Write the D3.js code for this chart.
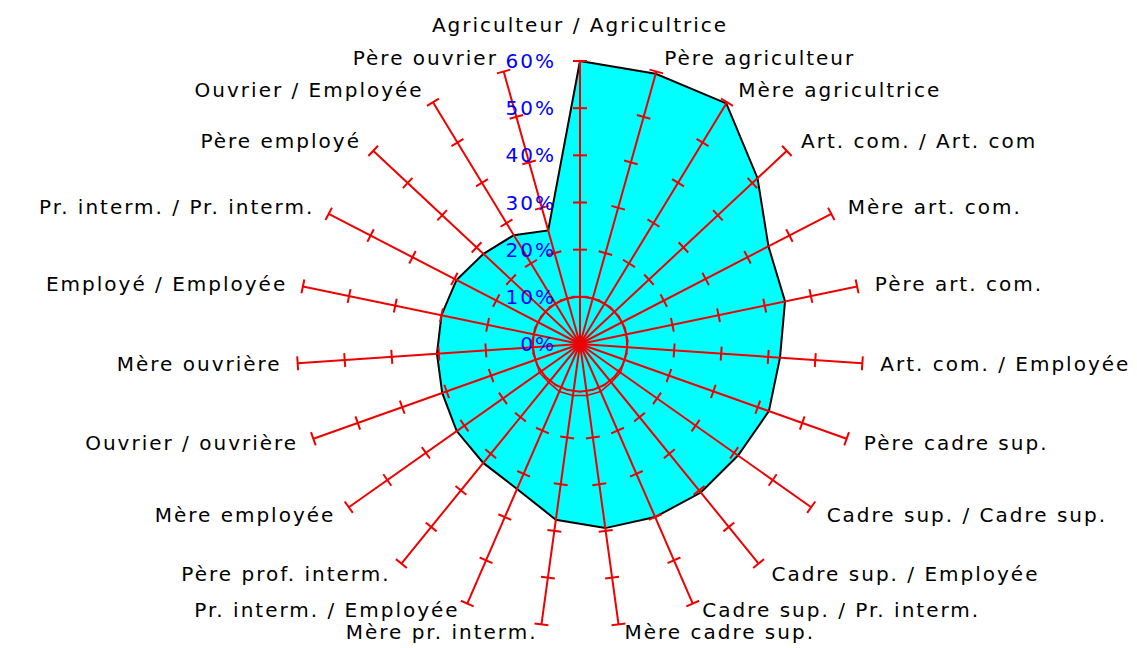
<!DOCTYPE html>
<html>
<head>
<meta charset="utf-8">
<script src="https://cdn.jsdelivr.net/npm/d3@7"></script>
<style>
  body { margin: 0; background: #fff; }
  svg { display: block; }
  text { font-family: "DejaVu Sans", sans-serif; }
</style>
</head>
<body>
<svg></svg>
<script>
// axes, clockwise from the top
const categories = [
  'Agriculteur / Agricultrice', 'Père agriculteur', 'Mère agricultrice',
  'Art. com. / Art. com', 'Mère art. com.', 'Père art. com.',
  'Art. com. / Employée', 'Père cadre sup.', 'Cadre sup. / Cadre sup.',
  'Cadre sup. / Employée', 'Cadre sup. / Pr. interm.', 'Mère cadre sup.',
  'Mère pr. interm.', 'Pr. interm. / Employée', 'Père prof. interm.',
  'Mère employée', 'Ouvrier / ouvrière', 'Mère ouvrière',
  'Employé / Employée', 'Pr. interm. / Pr. interm.', 'Père employé',
  'Ouvrier / Employée', 'Père ouvrier'
];
const values = [60, 59.5, 59.7, 51.5, 45, 44.4, 42.5, 42.5, 41, 40.6, 40, 39.4,
                37.6, 33.5, 32.5, 32, 31, 30.4, 30, 29.5, 28, 27, 25];
const innerValues = [10, 10, 10, 10, 10, 10, 10, 10, 10.5, 10.5, 11, 11,
                     11, 11, 10.5, 10.5, 10, 10, 10, 10, 10, 10, 10];
const ticks = [0, 10, 20, 30, 40, 50, 60];
const tickLabels = ['0%', '10%', '20%', '30%', '40%', '50%', '60%'];

const width = 1137;
const height = 648;
const cx = 580;
const cy = 344;
const maxR = 283;
const red = '#ee0000';

window.onload = () => {
  const svg = d3.select('svg')
      .attr('width', width)
      .attr('height', height);

  const r = d3.scaleLinear().domain([0, 60]).range([0, maxR]);
  const angle = d3.scaleLinear().domain([0, categories.length]).range([0, 2 * Math.PI]);

  const g = svg.append('g')
      .attr('transform', `translate(${cx},${cy})`);

  const radial = d3.lineRadial()
      .angle((d, i) => angle(i))
      .radius(d => r(d))
      .curve(d3.curveLinearClosed);

  // main series
  g.append('path')
      .attr('d', radial(values))
      .attr('fill', '#00ffff')
      .attr('stroke', '#000')
      .attr('stroke-width', 2);

  // small inner series
  g.append('path')
      .attr('d', radial(innerValues))
      .attr('fill', 'none')
      .attr('stroke', red)
      .attr('stroke-width', 1.5);

  // axes with ticks
  const axis = g.selectAll('g.axis')
    .data(categories)
    .join('g')
      .attr('class', 'axis')
      .attr('transform', (d, i) => `rotate(${angle(i) * 180 / Math.PI})`);

  axis.append('line')
      .attr('x1', 0).attr('y1', 0)
      .attr('x2', 0).attr('y2', -r(60))
      .attr('stroke', red)
      .attr('stroke-width', 2);

  axis.selectAll('line.tick')
    .data(ticks.slice(1))
    .join('line')
      .attr('class', 'tick')
      .attr('x1', -7).attr('x2', 7)
      .attr('y1', d => -r(d)).attr('y2', d => -r(d))
      .attr('stroke', red)
      .attr('stroke-width', 2);

  // axis labels
  svg.selectAll('text.cat')
    .data(categories)
    .join('text')
      .attr('class', 'cat')
      .attr('font-size', 20)
      .attr('letter-spacing', 2)
      .attr('fill', '#000')
      .attr('dominant-baseline', 'central')
      .each(function(d, i) {
        const a = angle(i);
        const s = Math.sin(a), c = -Math.cos(a);
        const t = d3.select(this);
        if (i === 0) {
          t.attr('x', cx).attr('y', cy - r(60) - 36).attr('text-anchor', 'middle');
        } else {
          const rr = r(60) + 14;
          const side = s > 0 ? 1 : -1;
          const y = cy + rr * c - (c > 0.9 ? 6 : 0);
          t.attr('x', cx + rr * s + side * 4 + (side < 0 ? 2 : 0))
           .attr('y', Math.min(y, height - 16))
           .attr('text-anchor', side > 0 ? 'start' : 'end');
        }
      })
      .text(d => d);

  // percent labels along the top axis
  svg.selectAll('text.pct')
    .data(ticks)
    .join('text')
      .attr('class', 'pct')
      .attr('font-size', 20)
      .attr('letter-spacing', 2)
      .attr('fill', '#0000ff')
      .attr('text-anchor', 'end')
      .attr('dominant-baseline', 'central')
      .attr('x', cx - 24)
      .attr('y', d => cy - r(d))
      .text((d, i) => tickLabels[i]);
};
</script>
</body>
</html>
